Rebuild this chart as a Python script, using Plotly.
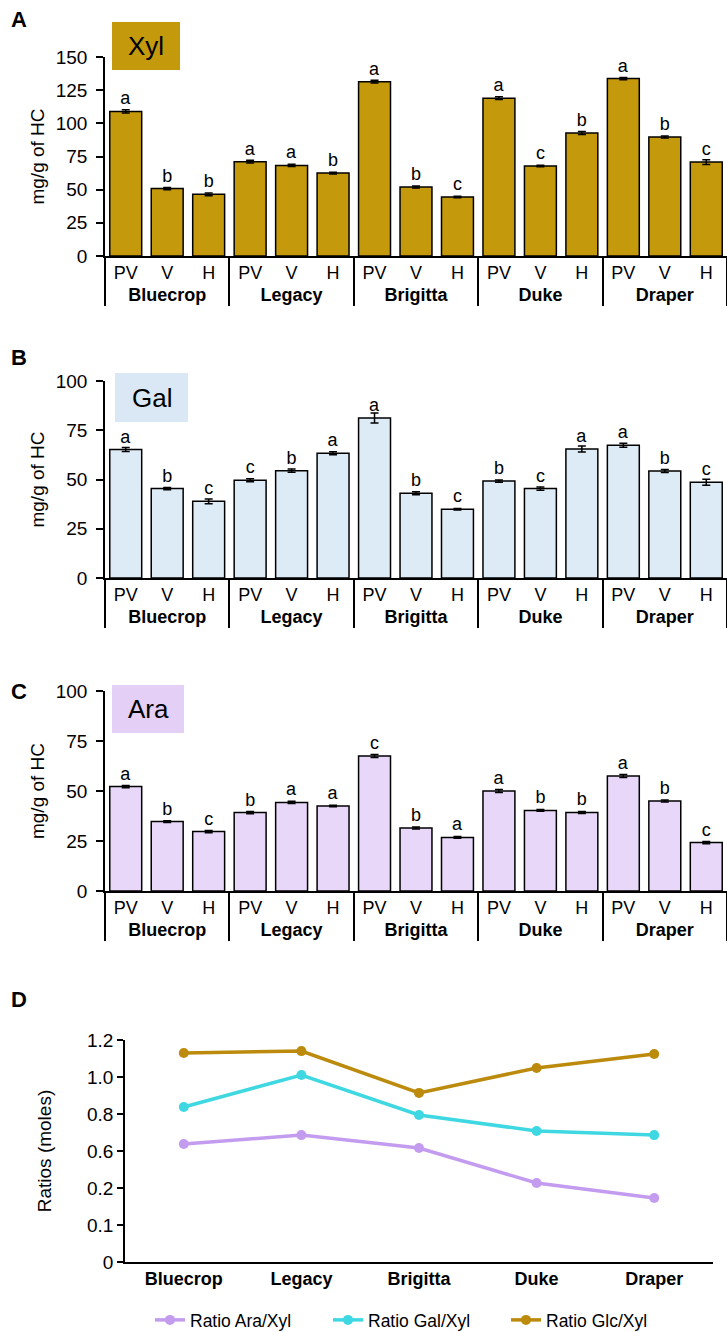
import plotly.graph_objects as go

W, H = 727, 1332

cultivars = ["Bluecrop", "Legacy", "Brigitta", "Duke", "Draper"]
stages = ["PV", "V", "H"]

xyl_vals = [109.0, 50.8, 46.5, 71.1, 68.3, 62.5, 131.4, 52.0, 44.5, 119.0, 67.8, 92.7, 133.7, 89.7, 70.8]
xyl_err = [1.2, 0.8, 1.0, 1.0, 0.8, 0.6, 1.0, 0.8, 0.5, 1.0, 0.6, 1.2, 0.8, 0.8, 1.8]
xyl_letters = ["a", "b", "b", "a", "a", "b", "a", "b", "c", "a", "c", "b", "a", "b", "c"]

gal_vals = [65.2, 45.4, 38.9, 49.6, 54.5, 63.3, 81.2, 43.0, 34.9, 49.2, 45.4, 65.5, 67.4, 54.3, 48.6]
gal_err = [1.0, 0.6, 1.2, 0.8, 0.8, 0.8, 2.5, 0.8, 0.4, 0.6, 0.8, 1.5, 1.0, 0.8, 1.5]
gal_letters = ["a", "b", "c", "c", "b", "a", "a", "b", "c", "b", "c", "a", "a", "b", "c"]

ara_vals = [52.2, 34.7, 29.7, 39.2, 44.3, 42.5, 67.5, 31.5, 26.8, 50.0, 40.3, 39.3, 57.5, 45.0, 24.2]
ara_err = [0.6, 0.4, 0.6, 0.6, 0.6, 0.4, 0.8, 0.5, 0.4, 0.8, 0.4, 0.5, 0.8, 0.5, 0.6]
ara_letters = ["a", "b", "c", "b", "a", "a", "c", "b", "a", "a", "b", "b", "a", "b", "c"]

ratio_ara = [0.638, 0.686, 0.616, 0.427, 0.346]
ratio_gal = [0.838, 1.011, 0.795, 0.708, 0.686]
ratio_glc = [1.130, 1.140, 0.914, 1.049, 1.124]
ratio_tickvals = [0, 0.2, 0.4, 0.6, 0.8, 1.0, 1.2]
ratio_ticktext = ["0", "0.1", "0.2", "0.6", "0.8", "1.0", "1.2"]

FONT = "Liberation Sans, Arial, sans-serif"


def py(y):
    return 1 - y / H


def px(x):
    return x / W


grp = [f"<b>{c}</b>" for c in cultivars for _ in stages]
stg = [s for _ in cultivars for s in stages]

panels = [
    dict(name="Xyl", vals=xyl_vals, err=xyl_err, letters=xyl_letters, color="#C4990C", box="#C4990C",
         ymax=150, dtick=25, top=57, bottom=256, bx=(112, 22, 180, 70), lab="A", laby=20),
    dict(name="Gal", vals=gal_vals, err=gal_err, letters=gal_letters, color="#DDEBF7", box="#DAE8F5",
         ymax=100, dtick=25, top=381, bottom=578, bx=(115, 373, 188, 422), lab="B", laby=357),
    dict(name="Ara", vals=ara_vals, err=ara_err, letters=ara_letters, color="#E8D7F9", box="#E4D0F7",
         ymax=100, dtick=25, top=691, bottom=891, bx=(112, 685, 184, 733), lab="C", laby=692),
]

fig = go.Figure()
layout = dict(
    width=W, height=H, margin=dict(l=0, r=0, t=0, b=0, autoexpand=False),
    paper_bgcolor="white", plot_bgcolor="white",
    font=dict(family=FONT, color="black"),
    bargap=0.23, showlegend=True,
)
shapes = []
annotations = []

for i, p in enumerate(panels):
    n = i + 1
    xk, yk = f"x{n}", f"y{n}"
    fig.add_trace(go.Bar(
        x=[grp, stg], y=p["vals"],
        error_y=dict(type="data", array=p["err"], color="black", thickness=1.5, width=4),
        marker=dict(color=p["color"], line=dict(color="black", width=1.5)),
        text=p["letters"], textposition="outside", textfont=dict(size=18, color="black"),
        constraintext="none", cliponaxis=False, showlegend=False,
        xaxis=xk, yaxis=yk, hoverinfo="skip",
    ))
    layout[f"xaxis{n}"] = dict(
        domain=[px(105), 1], anchor=yk, type="multicategory",
        showdividers=True, dividercolor="black", dividerwidth=1.5,
        showline=True, linecolor="black", linewidth=1.5, ticks="",
        tickfont=dict(size=18, family=FONT), showgrid=False,
    )
    layout[f"yaxis{n}"] = dict(
        domain=[py(p["bottom"]), py(p["top"])], anchor=xk, range=[0, p["ymax"]], dtick=p["dtick"],
        showline=True, linecolor="black", linewidth=1.5, ticks="outside", ticklen=7, tickwidth=1.5,
        tickcolor="black", showgrid=False, zeroline=False, tickfont=dict(size=19),
        ticklabelstandoff=5,
        title=dict(text="mg/g of HC", font=dict(size=19), standoff=6),
    )
    x0, y0, x1, y1 = p["bx"]
    shapes.append(dict(type="rect", xref="paper", yref="paper", x0=px(x0), x1=px(x1), y0=py(y1), y1=py(y0),
                       fillcolor=p["box"], line=dict(width=0), layer="below"))
    annotations.append(dict(text=p["name"], xref="paper", yref="paper", x=px((x0 + x1) / 2), y=py((y0 + y1) / 2),
                            showarrow=False, font=dict(size=26), xanchor="center", yanchor="middle"))
    annotations.append(dict(text=f"<b>{p['lab']}</b>", xref="paper", yref="paper", x=px(9), y=py(p["laby"]),
                            showarrow=False, font=dict(size=22), xanchor="left", yanchor="middle"))

# Panel D
line_series = [
    ("Ratio Ara/Xyl", ratio_ara, "#C39CF0"),
    ("Ratio Gal/Xyl", ratio_gal, "#3FD8E2"),
    ("Ratio Glc/Xyl", ratio_glc, "#BC8A0C"),
]
for name, vals, col in line_series:
    fig.add_trace(go.Scatter(
        x=cultivars, y=vals, name=name, mode="lines+markers",
        line=dict(color=col, width=3.5), marker=dict(color=col, size=10),
        xaxis="x4", yaxis="y4", cliponaxis=False,
    ))
layout["xaxis4"] = dict(
    domain=[px(125), px(713)], anchor="y4", type="category", range=[-0.5, 4.5],
    tickvals=cultivars, ticktext=[f"<b>{c}</b>" for c in cultivars],
    showline=True, linecolor="black", linewidth=1.5, ticks="", tickfont=dict(size=18), showgrid=False,
)
layout["yaxis4"] = dict(
    domain=[py(1262), py(1040)], anchor="x4", range=[0, 1.2],
    tickvals=ratio_tickvals, ticktext=ratio_ticktext,
    showline=True, linecolor="black", linewidth=1.5, ticks="outside", ticklen=6, tickwidth=1.5,
    tickcolor="black", showgrid=False, zeroline=False, tickfont=dict(size=19),
    title=dict(text="Ratios (moles)", font=dict(size=19), standoff=30),
)
annotations.append(dict(text="<b>D</b>", xref="paper", yref="paper", x=px(9), y=py(1000),
                        showarrow=False, font=dict(size=22), xanchor="left", yanchor="middle"))

layout["legend"] = dict(orientation="h", x=px(150), xanchor="left", y=py(1320), yanchor="middle",
                        font=dict(size=17.5), itemwidth=30, entrywidth=133, entrywidthmode="pixels",
                        tracegroupgap=0, bgcolor="rgba(0,0,0,0)")
layout["shapes"] = shapes
layout["annotations"] = annotations
fig.update_layout(**layout)
fig.write_html(
    "out.html",
    config={"displayModeBar": False},
    post_script="document.body.style.margin='0';document.body.style.overflow='hidden';",
)
